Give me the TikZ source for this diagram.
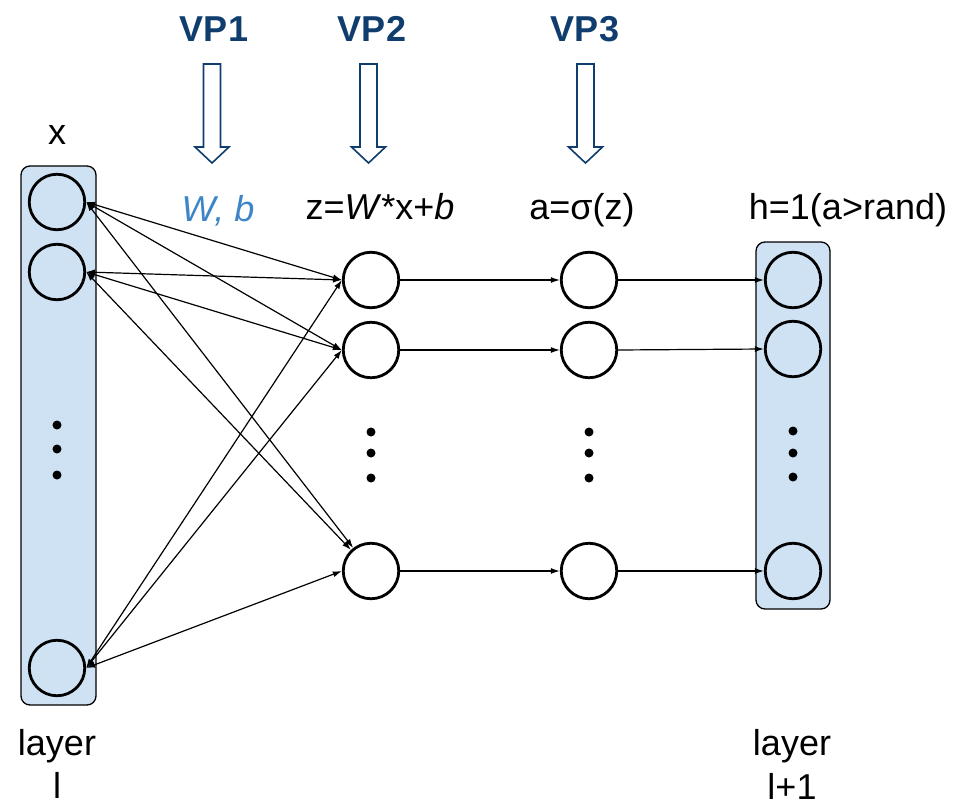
\documentclass[tikz,border=0pt]{standalone}
\usepackage{fontspec}
\setmainfont{Liberation Sans}
\usetikzlibrary{arrows.meta}
\definecolor{vpblue}{HTML}{0F3E6E}
\definecolor{wblue}{HTML}{3D85C6}
\definecolor{boxfill}{HTML}{CFE2F3}
\tikzset{
  layerbox/.style={draw=black, line width=1.3pt, fill=boxfill, rounded corners=9pt, inner sep=0pt},
  unit/.style={circle, draw=black, line width=2.8pt, minimum size=55.5pt, inner sep=0pt},
  wunit/.style={unit, fill=white},
  lbl/.style={font=\fontsize{36}{43}\selectfont, anchor=base, inner sep=0pt},
  vplbl/.style={font=\fontsize{36}{43}\selectfont\bfseries, text=vpblue, anchor=base, inner sep=0pt},
  conn/.style={line width=1.2pt, {Latex[length=9pt,width=6pt]}-{Latex[length=9pt,width=6pt]}},
  fwd/.style={line width=1.2pt, -{Latex[length=9pt,width=6pt]}},
  blockarr/.style={draw=vpblue, line width=1.6pt, fill=white, line join=miter},
  dot/.style={circle, fill=black, inner sep=0pt, minimum size=9pt}
}
\begin{document}
\begin{tikzpicture}[x=1pt,y=-1pt]
\useasboundingbox (0,0) rectangle (971,805);
% layer boxes
\node[layerbox, minimum width=75pt, minimum height=539pt] (boxL) at (58.5,435.5) {};
\node[layerbox, minimum width=74pt, minimum height=367pt] (boxR) at (793,425.5) {};
% units
\node[unit] (l1) at (57,202) {};
\node[unit] (l2) at (57,272) {};
\node[unit] (l3) at (57,668) {};
\node[wunit] (z1) at (371,280) {};
\node[wunit] (z2) at (371,350) {};
\node[wunit] (z3) at (371,571) {};
\node[wunit] (a1) at (589,280) {};
\node[wunit] (a2) at (589,350) {};
\node[wunit] (a3) at (589,571) {};
\node[unit] (r1) at (793,280) {};
\node[unit] (r2) at (793,349) {};
\node[unit] (r3) at (793,571) {};
% dots
\foreach \xx/\yy [count=\i] in {57/425,57/449,57/475,371/432,371/453,371/478,589/432,589/453,589/478,793/431,793/453,793/477}
  \node[dot] (d\i) at (\xx,\yy) {};
% connections
\draw[conn] (l1.east) -- (z1.west);
\draw[conn] (l1.east) -- (z2.west);
\draw[conn] (l1.east) -- (z3);
\draw[conn] (l2.east) -- (z1.west);
\draw[conn] (l2.east) -- (z2.west);
\draw[conn] (l2.east) -- (z3);
\draw[conn] (l3.east) -- (z1.west);
\draw[conn] (l3.east) -- (z2.west);
\draw[conn] (l3.east) -- (z3.west);
\draw[fwd] (z1.east) -- (a1.west);
\draw[fwd] (z2.east) -- (a2.west);
\draw[fwd] (z3.east) -- (a3.west);
\draw[fwd] (a1.east) -- (r1.west);
\draw[fwd] (a2.east) -- (r2.west);
\draw[fwd] (a3.east) -- (r3.west);
% labels
\node[lbl] (xl) at (57,145) {x};
\node[vplbl] (vp1) at (214,42) {VP1};
\node[vplbl] (vp2) at (372,42) {VP2};
\node[vplbl] (vp3) at (585,42) {VP3};
\node[lbl, text=wblue] (wb) at (218,221) {\itshape W, b};
\node[lbl] (zl) at (380,219) {z=\textit{W}*x+\textit{b}};
\node[lbl] (al) at (582,219) {a=σ(z)};
\node[lbl] (hl) at (848,219) {h=1(a>rand)};
\node[lbl] (layL) at (57,755) {layer};
\node[lbl] (layLb) at (57,798) {l};
\node[lbl] (layR) at (792,755) {layer};
\node[lbl] (layRb) at (792,799) {l+1};
% block arrows
\foreach \cx in {212,368.5,585.5}
  \draw[blockarr] (\cx-8.5,64) -- (\cx-8.5,147) -- (\cx-17,147) -- (\cx,163) -- (\cx+17,147) -- (\cx+8.5,147) -- (\cx+8.5,64) -- cycle;
\end{tikzpicture}
\end{document}
